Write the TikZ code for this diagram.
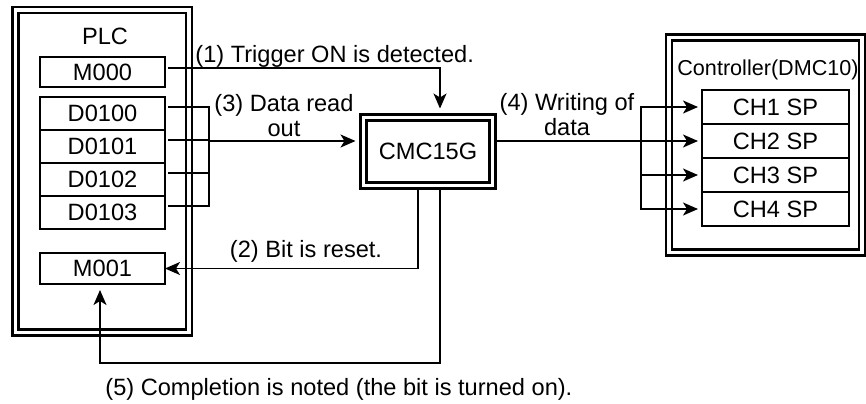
\documentclass[tikz,border=0pt]{standalone}
\usepackage{fontspec}
\setmainfont{Liberation Sans}
\usetikzlibrary{positioning, arrows.meta}

\begin{document}
\begin{tikzpicture}[
  x=0.5pt, y=-0.5pt,
  >={Stealth[length=7.5pt, width=6.5pt, inset=2pt]},
  font=\fontsize{11.8}{12.5}\selectfont,
  frame/.style={draw, double, line width=1.1pt, double distance=1.9pt,
                inner sep=0pt, outer sep=2pt},
  reg/.style={draw, line width=0.85pt, inner sep=0pt, outer sep=0pt,
              minimum width=62.5pt, minimum height=16.5pt},
  chan/.style={draw, line width=0.85pt, inner sep=0pt, outer sep=0pt,
               minimum width=73.5pt, minimum height=17pt},
  io/.style={inner sep=0pt},
  ln/.style={line width=0.85pt},
  ar/.style={->, line width=0.85pt},
]
\useasboundingbox (0,0) rectangle (866,403);

% ===================== PLC =====================
\node[frame, minimum width=86.75pt, minimum height=161.25pt] (plc) at (102.25,171.25) {};
\node[io, anchor=base] (plcT) at (105,44) {PLC};
\node[reg, minimum height=15pt] (m000) at (102.5,72) {M000};
\node[reg] (d1) at (102.5,113.5) {D0100};
\node[reg, below=0pt of d1] (d2) {D0101};
\node[reg, below=0pt of d2] (d3) {D0102};
\node[reg, below=0pt of d3] (d4) {D0103};
\node[reg, minimum height=15.5pt] (m001) at (102.5,268.5) {M001};

% ===================== CMC15G =====================
\node[frame, minimum width=64.5pt, minimum height=34pt] (cmc) at (428,151.5) {CMC15G};

% ===================== Controller =====================
\node[frame, minimum width=96.5pt, minimum height=107.5pt] (ctl) at (765.5,145) {};
\node[io, anchor=base, font=\fontsize{10.8}{12}\selectfont] (ctlT) at (768,75) {Controller(DMC10)};
\node[chan] (ch1) at (775.5,107) {CH1 SP};
\node[chan, below=0pt of ch1] (ch2) {CH2 SP};
\node[chan, below=0pt of ch2] (ch3) {CH3 SP};
\node[chan, below=0pt of ch3] (ch4) {CH4 SP};

% ===================== connectors =====================
\coordinate (dbus) at (209,141);
\coordinate (cbus) at (641,141);
\coordinate (back) at (100,363);

% (1) trigger
\draw[ar, shorten >=2.5pt] ([shift={(1.5pt,2pt)}]m000.east) -| ([xshift=6pt]cmc.north);
% (3) data read out
\foreach \i in {1,...,4}
  \draw[ln] ([shift={(1.5pt,-5pt)}]d\i.north east) -| (dbus);
\draw[ar, shorten >=2pt] (dbus) -- (dbus -| cmc.west);
% (4) writing
\draw[ln] (cbus -| cmc.east) -- (cbus);
\foreach \i in {1,...,4}
  \draw[ar, shorten >=2pt] (cbus) |- (ch\i.west);
% (2) reset, (5) completion
\draw[ar] ([xshift=-5pt]cmc.south) |- (m001.east);
\draw[ar, shorten >=3pt] ([xshift=6pt]cmc.south) |- (back) -- (back |- m001.south);

% labels
\node[io, anchor=base west] (t1) at (195,62) {(1) Trigger ON is detected.};
\node[io, anchor=base, align=center] (t3) at (284,136) {(3) Data read\\out};
\node[io, anchor=base, align=center] (t4) at (567,135) {(4) Writing of\\data};
\node[io, anchor=base] (t2) at (306,257) {(2) Bit is reset.};
\node[io, anchor=base west] (t5) at (105,395) {(5) Completion is noted (the bit is turned on).};
\end{tikzpicture}
\end{document}
